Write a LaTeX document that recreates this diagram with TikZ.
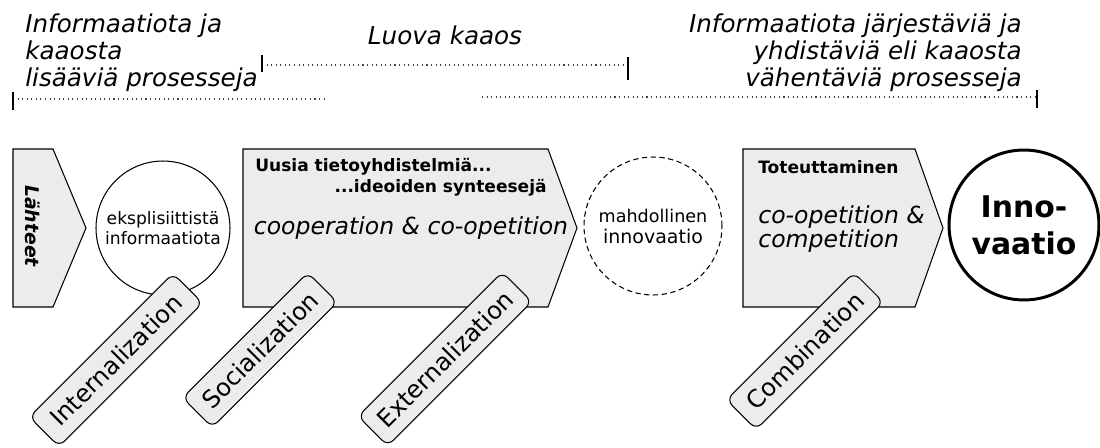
\documentclass[tikz,border=0pt]{standalone}
\usepackage{fontspec}
\setmainfont{DejaVu Sans}[BoldFont={DejaVu Sans Bold}, ItalicFont={DejaVu Sans Oblique}, BoldItalicFont={DejaVu Sans Bold Oblique}]
\usepackage{tikz}
\usepackage{xcolor}
\definecolor{boxgray}{RGB}{236,236,236}
\tikzset{
    stage-shape/.style = {draw=black, fill=boxgray, line width=0.6pt},
    info-circle/.style = {draw=black, fill=white, circle, line width=0.6pt, inner sep=0pt, align=center},
    tab-box/.style = {draw=black, fill=boxgray, line width=0.6pt, rectangle, rounded corners=4.5pt, rotate=45, minimum height=0.84cm, inner sep=0pt, font=\fontsize{13.8}{15}\selectfont},
    phase-text/.style = {inner sep=0pt, font=\fontsize{14}{15.6}\selectfont\itshape},
    bracket-line/.style = {draw=black!75, dotted, line width=0.6pt},
    bracket-tick/.style = {draw=black, line width=0.8pt},
    head-text/.style = {inner sep=0pt, font=\fontsize{9.7}{11}\selectfont\bfseries},
    mode-text/.style = {inner sep=0pt, align=left, font=\fontsize{13.4}{14.2}\selectfont\itshape},
}

\begin{document}
\begin{tikzpicture}[x=0.02cm, y=-0.02cm]
\useasboundingbox (0,0) rectangle (1100,447);

% phases on top
\node[phase-text, align=left, anchor=north west] (add-text) at (25,13) {Informaatiota ja\\kaaosta\\lisääviä prosesseja};
\node[phase-text] (chaos-text) at (445,35) {Luova kaaos};
\node[phase-text, align=right, anchor=north east] (order-text) at (1022,13) {Informaatiota järjestäviä ja\\yhdistäviä eli kaaosta\\vähentäviä prosesseja};

\coordinate (add-a) at (13,99);
\coordinate (add-b) at (325,99);
\coordinate (chaos-a) at (262,65);
\coordinate (chaos-b) at (628,65);
\coordinate (order-a) at (482,97);
\coordinate (order-b) at (1037,97);
\draw[bracket-line] (add-a) -- (add-b);
\draw[bracket-line] (chaos-a) -- (chaos-b);
\draw[bracket-line] (order-a) -- (order-b);
\draw[bracket-tick] (add-a) ++(0,-7) -- ++(0,18);
\draw[bracket-tick] (chaos-a) ++(0,-10) -- ++(0,17);
\draw[bracket-tick] (chaos-b) ++(0,-8) -- ++(0,23);
\draw[bracket-tick] (order-b) ++(0,-7) -- ++(0,18);

% stages
\draw[stage-shape] (13,149) -- (53,149) -- (86,228) -- (53,307) -- (13,307) -- cycle;
\node[rotate=-90, inner sep=0pt, font=\fontsize{10.7}{12}\selectfont\bfseries\itshape] (sources) at (33,226) {Lähteet};

\node[info-circle, minimum size=2.68cm, font=\fontsize{9.75}{11.3}\selectfont] (explicit) at (163,228) {eksplisiittistä\\informaatiota};

\draw[stage-shape] (243,149) -- (548,149) -- (577,228) -- (548,307) -- (243,307) -- cycle;
\node[head-text, anchor=west] (new-combos) at (255,167) {Uusia tietoyhdistelmiä...};
\node[head-text, anchor=east] (synthesis) at (547,188) {...ideoiden synteesejä};
\node[mode-text] (coop) at (411,228) {cooperation \& co-opetition};

\node[info-circle, dashed, dash pattern=on 3pt off 2pt, minimum size=2.76cm] (possible) at (653,226) {{\fontsize{10}{12.5}\selectfont mahdollinen}\\{\fontsize{10.8}{12.5}\selectfont innovaatio}};

\draw[stage-shape] (743,149) -- (915,149) -- (943,228) -- (915,307) -- (743,307) -- cycle;
\node[head-text, anchor=west] (realize) at (758,167) {Toteuttaminen};
\node[mode-text, anchor=west] (compete) at (758,229) {co-opetition \&\\competition};

\node[info-circle, line width=1.7pt, minimum size=3cm, font=\fontsize{17}{21}\selectfont\bfseries] (innovation) at (1024,225) {Inno-\\vaatio};

% SECI tabs
\node[tab-box, minimum width=4.06cm] (internal) at (116,360) {Internalization};
\node[tab-box, minimum width=3.54cm] (social) at (260,350) {Socialization};
\node[tab-box, minimum width=4.08cm] (external) at (445,359) {Externalization};
\node[tab-box, minimum width=3.6cm] (combine) at (805,351) {Combination};
\end{tikzpicture}
\end{document}
